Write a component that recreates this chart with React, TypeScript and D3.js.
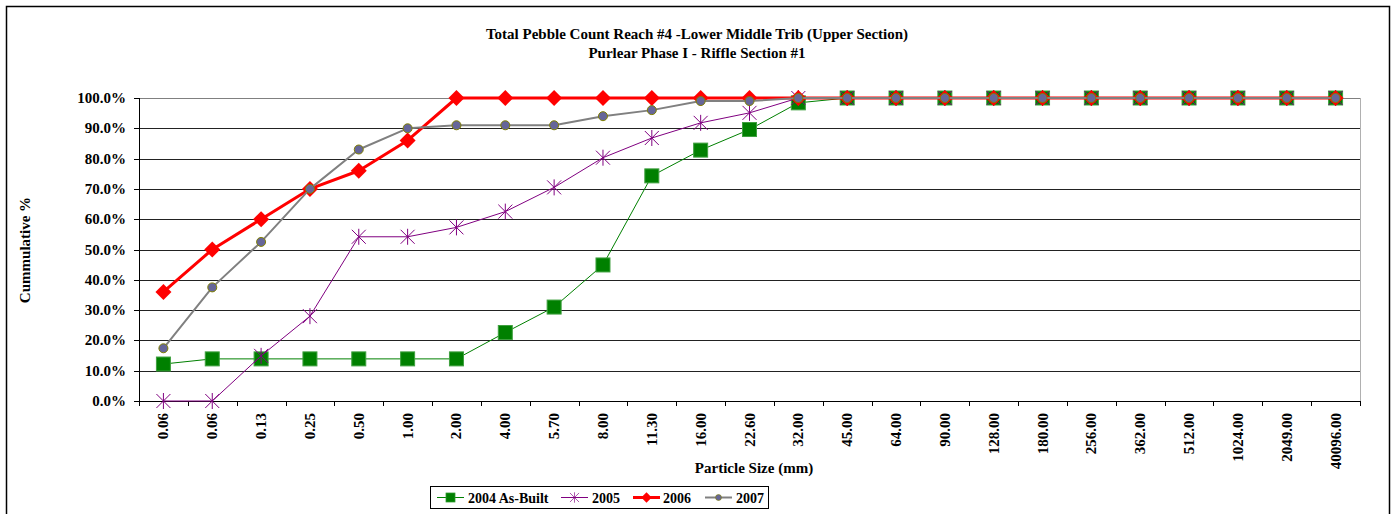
import React from "react";
import * as d3 from "d3";

const categories = ["0.06","0.06","0.13","0.25","0.50","1.00","2.00","4.00","5.70","8.00","11.30","16.00","22.60","32.00","45.00","64.00","90.00","128.00","180.00","256.00","362.00","512.00","1024.00","2049.00","40096.00"];
const yTicks = [0,10,20,30,40,50,60,70,80,90,100];

const s2004 = [12.2,13.9,13.9,13.9,13.9,13.9,13.9,22.6,31.0,44.9,74.3,82.8,89.6,98.4,100,100,100,100,100,100,100,100,100,100,100];
const s2005 = [0,0,14.9,28.0,54.2,54.2,57.3,62.5,70.5,80.3,86.8,91.8,95.1,100,100,100,100,100,100,100,100,100,100,100,100];
const s2006 = [36.0,50.0,60.0,70.0,76.0,86.0,100,100,100,100,100,100,100,100,100,100,100,100,100,100,100,100,100,100,100];
const s2007 = [17.4,37.5,52.5,70.0,83.0,90.0,91.0,91.0,91.0,94.0,96.0,99.0,99.0,100,100,100,100,100,100,100,100,100,100,100,100];

const seriesNames = ["2004 As-Built","2005","2006","2007"];

const FONT = "'Liberation Serif', 'Times New Roman', serif";

function Marker({ kind, x, y }: { kind: string; x: number; y: number }) {
  if (kind === "square") {
    return <rect x={x - 7} y={y - 7} width={14} height={14} fill="#008000" stroke="#3fa03f" strokeWidth={1} />;
  }
  if (kind === "star") {
    const r = 7;
    return (
      <g stroke="#800080" strokeWidth={1}>
        <line x1={x - r} y1={y - r} x2={x + r} y2={y + r} />
        <line x1={x - r} y1={y + r} x2={x + r} y2={y - r} />
        <line x1={x} y1={y - r - 1} x2={x} y2={y + r + 1} />
      </g>
    );
  }
  if (kind === "diamond") {
    const r = 8;
    return <path d={`M${x},${y - r}L${x + r},${y}L${x},${y + r}L${x - r},${y}Z`} fill="#ff0000" />;
  }
  return <circle cx={x} cy={y} r={4.5} fill="#666699" stroke="#808000" strokeWidth={1} />;
}

export default function App() {
  const W = 1395, H = 514;
  const left = 139, right = 1360, top = 98, bottom = 401;

  const x = d3.scaleBand<number>().domain(d3.range(categories.length)).range([left, right]).paddingInner(0).paddingOuter(0);
  const y = d3.scaleLinear().domain([0, 100]).range([bottom, top]);
  const cx = (i: number) => (x(i) as number) + x.bandwidth() / 2;

  const line = d3.line<number>().x((_, i) => cx(i)).y((d) => y(d));

  const series = [
    { name: seriesNames[0], data: s2004, color: "#008000", width: 1, marker: "square" },
    { name: seriesNames[1], data: s2005, color: "#800080", width: 1, marker: "star" },
    { name: seriesNames[2], data: s2006, color: "#ff0000", width: 3, marker: "diamond" },
    { name: seriesNames[3], data: s2007, color: "#808080", width: 2, marker: "circle" },
  ];

  const legendItems = [
    { lx: 437, tx: 468 },
    { lx: 561, tx: 592 },
    { lx: 633, tx: 663 },
    { lx: 705, tx: 736 },
  ];

  return (
    <svg width={W} height={H} style={{ position: "absolute", left: 0, top: 0, background: "#fff" }} fontFamily={FONT}>
      <rect x={6.5} y={6.5} width={1383} height={600} fill="#fff" stroke="#000" strokeWidth={1.5} />
      <text x={697} y={39} textAnchor="middle" fontSize={15} fontWeight="bold">Total Pebble Count Reach #4 -Lower Middle Trib (Upper Section)</text>
      <text x={697} y={58} textAnchor="middle" fontSize={15} fontWeight="bold">Purlear Phase I - Riffle Section #1</text>

      {/* gridlines */}
      {yTicks.map((t) => (
        <line key={t} x1={left} x2={right} y1={Math.round(y(t)) + 0.5} y2={Math.round(y(t)) + 0.5} stroke={t === 100 ? "#808080" : "#222"} strokeWidth={1} />
      ))}
      <line x1={right + 0.5} x2={right + 0.5} y1={top} y2={bottom} stroke="#b0b0b0" strokeWidth={1} />
      {/* y axis */}
      <line x1={left + 0.5} x2={left + 0.5} y1={top} y2={bottom + 5} stroke="#000" strokeWidth={1} />
      {yTicks.map((t) => (
        <g key={"yt" + t}>
          <line x1={left - 5} x2={left} y1={Math.round(y(t)) + 0.5} y2={Math.round(y(t)) + 0.5} stroke="#000" />
          <text x={left - 13} y={y(t) + 5} textAnchor="end" fontSize={15} fontWeight="bold">{t.toFixed(1) + "%"}</text>
        </g>
      ))}
      {/* x axis */}
      <line x1={left} x2={right} y1={bottom + 0.5} y2={bottom + 0.5} stroke="#000" />
      {d3.range(categories.length + 1).map((i) => {
        const xx = Math.round(left + i * x.bandwidth()) + 0.5;
        return <line key={"xt" + i} x1={xx} x2={xx} y1={bottom} y2={bottom + 5} stroke="#000" />;
      })}
      {categories.map((c, i) => (
        <text key={"xl" + i} transform={`translate(${cx(i) + 5},${bottom + 12}) rotate(-90)`} textAnchor="end" fontSize={15} fontWeight="bold">{c}</text>
      ))}
      <text x={754} y={473} textAnchor="middle" fontSize={15} fontWeight="bold">Particle Size (mm)</text>
      <text transform={`translate(30,250) rotate(-90)`} textAnchor="middle" fontSize={15} fontWeight="bold">Cummulative %</text>

      {/* series */}
      {series.map((s) => (
        <g key={s.name}>
          <path d={line(s.data) as string} fill="none" stroke={s.color} strokeWidth={s.width} strokeLinejoin="round" />
          {s.data.map((v, i) => (
            <Marker key={i} kind={s.marker} x={cx(i)} y={y(v)} />
          ))}
        </g>
      ))}

      {/* legend */}
      <rect x={430.5} y={486.5} width={338} height={22} fill="#fff" stroke="#000" strokeWidth={1} />
      {series.map((s, i) => {
        const it = legendItems[i];
        const ly = 497.5;
        return (
          <g key={"lg" + i}>
            <line x1={it.lx} x2={it.lx + 27} y1={ly} y2={ly} stroke={s.color} strokeWidth={s.width} />
            <g transform={`translate(${it.lx + 13.5},${ly}) scale(0.65) translate(${-(it.lx + 13.5)},${-ly})`}>
              <Marker kind={s.marker} x={it.lx + 13.5} y={ly} />
            </g>
            <text x={it.tx} y={502.5} fontSize={14} fontWeight="bold">{s.name}</text>
          </g>
        );
      })}
    </svg>
  );
}
